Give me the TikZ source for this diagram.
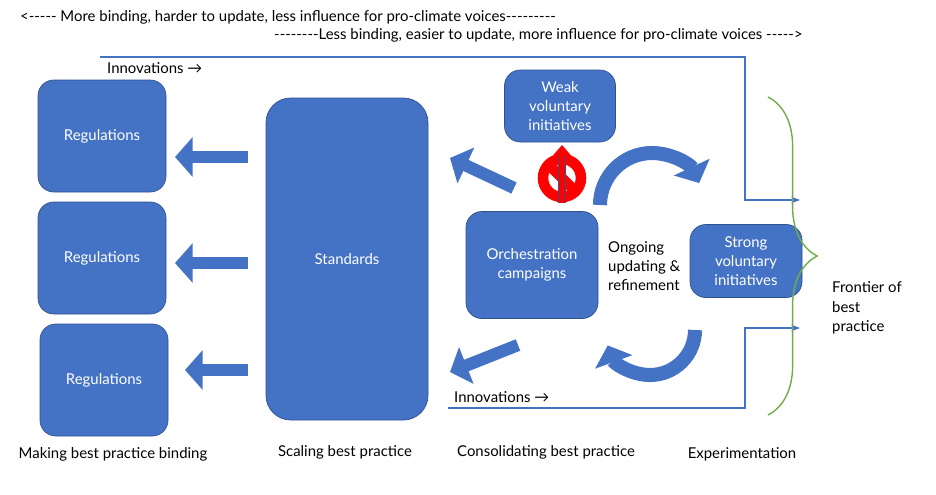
\documentclass[tikz,border=0pt]{standalone}
\usepackage{fontspec}
\setmainfont{Lato}
\usetikzlibrary{arrows.meta,decorations.pathreplacing}
\definecolor{boxblue}{HTML}{4472C4}
\definecolor{edgeblue}{HTML}{2F528F}
\definecolor{frontgreen}{HTML}{70AD47}
\tikzset{
  box/.style={draw=edgeblue, fill=boxblue, rounded corners=9pt, text=white, align=center, font=\fontsize{8.5}{11}\selectfont},
  plain/.style={font=\fontsize{8.5}{11}\selectfont, align=left},
  fat/.style={draw=boxblue, line width=7pt, -{Triangle[width=22pt,length=10pt]}},
  curly/.style={draw=boxblue, line width=8pt, -{Triangle[width=22pt,length=10pt]}},
  feed/.style={draw=boxblue, line width=1.2pt, -{Stealth[length=5pt]}}
}
\begin{document}
\begin{tikzpicture}[x=0.02cm, y=-0.02cm]
\useasboundingbox (0,0) rectangle (936,494);
% boxes
\node[box, minimum width=128*0.02cm, minimum height=112*0.02cm] (reg1) at (102,136) {Regulations};
\node[box, minimum width=128*0.02cm, minimum height=112*0.02cm] (reg2) at (102,258) {Regulations};
\node[box, minimum width=128*0.02cm, minimum height=112*0.02cm] (reg3) at (104,380) {Regulations};
\node[box, rounded corners=14pt, minimum width=162*0.02cm, minimum height=322*0.02cm] (std) at (347,259) {Standards};
\node[box, minimum width=111*0.02cm, minimum height=72*0.02cm] (weak) at (560,106) {Weak\\voluntary\\initiatives};
\node[box, minimum width=132*0.02cm, minimum height=107*0.02cm] (orch) at (532,265) {Orchestration\\campaigns};
\node[box, minimum width=112*0.02cm, minimum height=73*0.02cm] (strong) at (746,261) {Strong\\voluntary\\initiatives};
% texts
\node[plain, anchor=west] at (14,17) {<-{}-{}-{}-{}- More binding, harder to update, less influence for pro-climate voices-{}-{}-{}-{}-{}-{}-{}-{}-};
\node[plain, anchor=west] at (268,35) {-{}-{}-{}-{}-{}-{}-{}-Less binding, easier to update, more influence for pro-climate voices -{}-{}-{}-{}->};
\node[plain, anchor=west] (inn1) at (101,68) {Innovations →};
\node[plain, anchor=west] (inn2) at (448,397) {Innovations →};
\node[plain, anchor=west] (ongo) at (602,266) {Ongoing\\updating \&\\refinement};
\node[plain, anchor=west] (front) at (826,308) {Frontier of\\best\\practice};
\node[plain] (cap1) at (113,454) {Making best practice binding};
\node[plain] (cap2) at (345,452) {Scaling best practice};
\node[plain] (cap3) at (546,452) {Consolidating best practice};
\node[plain] (cap4) at (742,454) {Experimentation};
% feed lines
\coordinate (top) at (800,200);
\coordinate (bot) at (800,328);
\draw[feed] (100,57) -- (745,57) |- (top);
\draw[feed] (448,408) -- (745,408) |- (bot);
% block arrows
\draw[fat] (248,157) -- (175,157);
\draw[fat] (248,263) -- (175,263);
\draw[fat] (248,370) -- (185,370);
\draw[fat] (514,188) -- (450,158);
\draw[fat] (518,345) -- (450,372);
% cycle
\draw[curly] (600,205) arc (180:335:52);
\draw[curly] (695,330) arc (0:160:45);
% blocked path
\draw[red, line width=6pt] (562,178) circle (19);
\draw[red, line width=6pt] (549,165) -- (575,191);
\draw[edgeblue, line width=5pt] (562,203) -- (562,155);
\draw[red, line width=3pt, -{Triangle[width=10pt,length=6pt]}] (562,203) -- (562,145);
% frontier
\draw[frontgreen, line width=0.8pt, decorate, decoration={brace, amplitude=28pt}] (768,97) -- (768,415);
\end{tikzpicture}
\end{document}
